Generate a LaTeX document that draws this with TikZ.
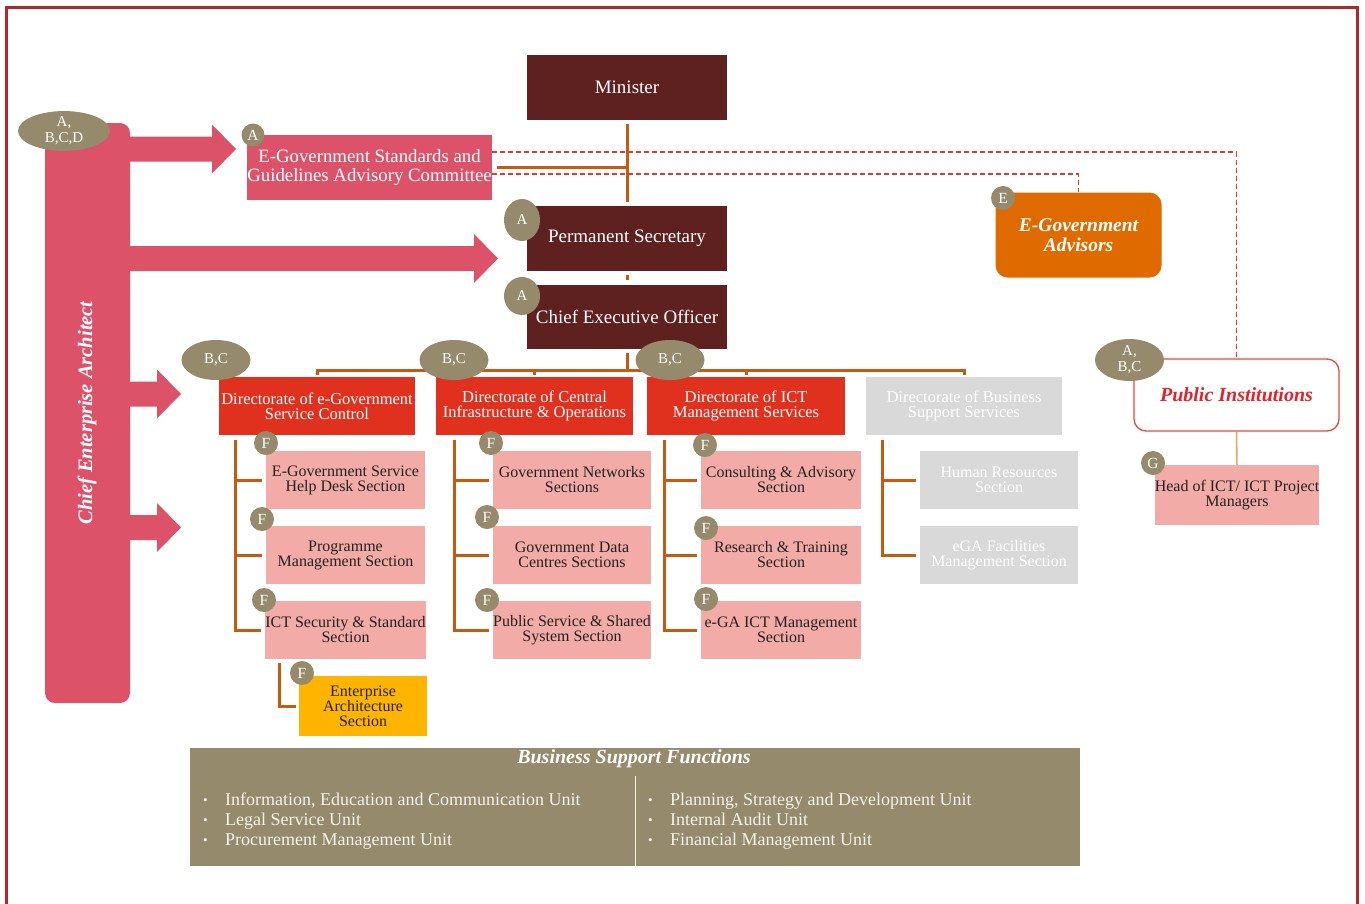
\documentclass[tikz,border=0pt]{standalone}
\usepackage{fontspec}
\setmainfont{Liberation Serif}
\usetikzlibrary{shapes.geometric}
\definecolor{framered}{HTML}{B0282C}
\definecolor{barpink}{HTML}{DB5269}
\definecolor{maroon}{HTML}{5E2120}
\definecolor{lineorange}{HTML}{C55A11}
\definecolor{dirred}{HTML}{E0301E}
\definecolor{secpink}{HTML}{F2ABA6}
\definecolor{greybox}{HTML}{D9D9D9}
\definecolor{amber}{HTML}{FFB400}
\definecolor{khaki}{HTML}{968A6C}
\definecolor{advorange}{HTML}{DF6A00}
\definecolor{dashred}{HTML}{E8392E}
\definecolor{pired}{HTML}{E8463E}
\definecolor{pitext}{HTML}{E3222A}
\definecolor{txtdark}{HTML}{222222}
\definecolor{softorange}{HTML}{F0A060}
\definecolor{bsftext}{HTML}{F4F2EC}
\newcommand\myfs[2]{\fontsize{#1}{#2}\selectfont}
\newcommand\bul{\makebox[22pt][l]{\raisebox{0.5pt}{\myfs{13}{13}\textbullet}}}
\newcommand\fatarr[3]{\fill[barpink] (#1,#3-12.5) -- (#2-24,#3-12.5) -- (#2-24,#3-24.5) -- (#2,#3) -- (#2-24,#3+24.5) -- (#2-24,#3+12.5) -- (#1,#3+12.5) -- cycle;}
\begin{document}
\begin{tikzpicture}[x=1pt,y=-1pt,
  box/.style={rectangle, inner sep=0pt, align=center},
  darkbox/.style={box, fill=maroon, text=white, minimum width=200pt, minimum height=65pt, font=\myfs{19}{19}},
  dirbox/.style={box, fill=dirred, text=white, minimum width=197pt, minimum height=58pt, font=\myfs{16.5}{15}},
  secbox/.style={box, fill=secpink, text=txtdark, minimum width=159pt, minimum height=58pt, font=\myfs{16}{15}},
  greydir/.style={dirbox, fill=greybox, text=white},
  greysec/.style={secbox, fill=greybox, text=white},
  badge/.style={ellipse, fill=khaki, text=white, inner sep=0pt, align=center, font=\myfs{15}{16}},
  fbadge/.style={circle, fill=khaki, text=white, inner sep=0pt, minimum size=24pt, font=\myfs{15.5}{15.5}},
  treeline/.style={draw=lineorange, line width=3pt},
  dashline/.style={draw=dashred, line width=1.2pt, dash pattern=on 5pt off 3pt},
]
\useasboundingbox (0,0) rectangle (1365,903);
\clip (0,0) rectangle (1365,903);
% frame
\draw[framered, line width=3pt] (6.5,930) -- (6.5,7) -- (1357,7) -- (1357,930);

% Chief Enterprise Architect bar
\node[box, fill=barpink, minimum width=85pt, minimum height=580pt, rounded corners=10pt] (cea) at (87.5,413) {};
\node[rotate=90, text=white, font=\myfs{20.5}{20}\bfseries\itshape] (ceatext) at (87,413) {Chief Enterprise Architect};

% fat arrows
\fatarr{128}{236}{149}
\fatarr{128}{498}{258.5}
\fatarr{128}{181}{394}
\fatarr{128}{181}{527.5}

% top boxes
\node[box, fill=barpink, text=white, minimum width=245pt, minimum height=65pt, font=\myfs{18.8}{18.5}] (egsc) at (369.5,167.5) {E-Government Standards and\\Guidelines Advisory Committee};
\node[darkbox] (minister) at (627,87) {Minister};
\node[darkbox] (ps) at (627,238.5) {Permanent Secretary};
\node[darkbox, minimum height=64pt] (ceo) at (627,316.5) {Chief Executive Officer};

% advisors and public institutions
\node[box, fill=advorange, text=white, minimum width=166pt, minimum height=85pt, rounded corners=12pt, font=\myfs{19.5}{20}\bfseries\itshape] (adv) at (1078.5,235) {E-Government\\Advisors};
\node[box, draw=pired, line width=1.3pt, fill=white, text=pitext, minimum width=205pt, minimum height=72pt, rounded corners=12pt, font=\myfs{20}{20}\bfseries\itshape] (pi) at (1236.5,395) {Public Institutions};
\node[secbox, minimum width=164pt, minimum height=60pt] (head) at (1237,495) {Head of ICT/ ICT Project\\Managers};

% directorates
\node[dirbox, minimum width=196pt] (d1) at (317,406) {Directorate of e-Government\\Service Control};
\node[dirbox] (d2) at (534.5,406) {Directorate of Central\\Infrastructure \& Operations};
\node[dirbox, minimum width=198pt] (d3) at (746,406) {Directorate of ICT\\Management Services};
\node[greydir, minimum width=196pt] (d4) at (964,406) {Directorate of Business\\Support Services};

% sections
\node[secbox] (s11) at (345.5,480) {E-Government Service\\Help Desk Section};
\node[secbox] (s12) at (345.5,555) {Programme\\Management Section};
\node[secbox] (s13) at (345.5,630) {ICT Security \& Standard\\Section};
\node[secbox, fill=amber, minimum width=128pt, minimum height=60pt] (ea) at (363,706) {Enterprise\\Architecture\\Section};
\node[secbox, minimum width=158pt] (s21) at (572,480) {Government Networks\\Sections};
\node[secbox, minimum width=158pt] (s22) at (572,555) {Government Data\\Centres Sections};
\node[secbox, minimum width=158pt] (s23) at (572,630) {Public Service \& Shared\\System Section};
\node[secbox, minimum width=160pt] (s31) at (781,480) {Consulting \& Advisory\\Section};
\node[secbox, minimum width=160pt] (s32) at (781,555) {Research \& Training\\Section};
\node[secbox, minimum width=160pt] (s33) at (781,630) {e-GA ICT Management\\Section};
\node[greysec, minimum width=158pt] (s41) at (999,480) {Human Resources\\Section};
\node[greysec, minimum width=158pt] (s42) at (999,555) {eGA Facilities\\Management Section};

% connectors
\coordinate (bus) at (0,370);
\draw[treeline] ([yshift=-4pt]minister.south) -- ([yshift=4pt]ps.north);
\draw[treeline] (minister.south |- egsc.east) -- ([xshift=5pt]egsc.east);
\draw[treeline] ([yshift=-4pt]ps.south) -- ([yshift=4pt]ceo.north);
\draw[treeline] ([yshift=-4pt]ceo.south) -- (ceo.south |- bus);
\draw[treeline] ([yshift=2pt]d1.north) -- (d1.north |- bus) -- (d4.north |- bus) -- ([yshift=2pt]d4.north);
\draw[treeline] ([yshift=2pt]d2.north) -- (d2.north |- bus);
\draw[treeline] ([yshift=2pt]d3.north) -- (d3.north |- bus);

% trees
\draw[treeline] ([xshift=17pt,yshift=-5pt]d1.south west) |- ([xshift=-4pt]s13.west);
\draw[treeline] ([xshift=17pt]d1.south west |- s11.west) -- ([xshift=-4pt]s11.west);
\draw[treeline] ([xshift=17pt]d1.south west |- s12.west) -- ([xshift=-4pt]s12.west);
\draw[treeline] ([xshift=19pt,yshift=-5pt]d2.south west) |- ([xshift=-4pt]s23.west);
\draw[treeline] ([xshift=19pt]d2.south west |- s21.west) -- ([xshift=-4pt]s21.west);
\draw[treeline] ([xshift=19pt]d2.south west |- s22.west) -- ([xshift=-4pt]s22.west);
\draw[treeline] ([xshift=18pt,yshift=-5pt]d3.south west) |- ([xshift=-4pt]s33.west);
\draw[treeline] ([xshift=18pt]d3.south west |- s31.west) -- ([xshift=-4pt]s31.west);
\draw[treeline] ([xshift=18pt]d3.south west |- s32.west) -- ([xshift=-4pt]s32.west);
\draw[treeline] ([xshift=17pt,yshift=-5pt]d4.south west) |- ([xshift=-4pt]s42.west);
\draw[treeline] ([xshift=17pt]d4.south west |- s41.west) -- ([xshift=-4pt]s41.west);
\draw[treeline] ([xshift=14pt,yshift=-4pt]s13.south west) |- ([xshift=-3pt]ea.west);

% dashed links
\draw[dashline] (egsc.east |- 0,152) -| (pi.north);
\draw[dashline] (egsc.east |- 0,174) -| (adv.north);
\draw[draw=softorange, line width=1.5pt] (pi.south) -- (head.north);

% badges
\node[badge, minimum width=92pt, minimum height=36pt] (babcd) at (64,131) {A,\\B,C,D};
\node[fbadge, minimum size=23pt] (begsc) at (253,135) {A};
\node[badge, minimum width=36pt, minimum height=42pt] (bps) at (522,220) {A};
\node[badge, minimum width=36pt, minimum height=38pt] (bceo) at (522,296) {A};
\node[badge, minimum width=69pt, minimum height=40pt] (bd1) at (216,360) {B,C};
\node[badge, minimum width=69pt, minimum height=40pt] (bd2) at (454,360) {B,C};
\node[badge, minimum width=69pt, minimum height=40pt] (bd3) at (670,360) {B,C};
\node[fbadge] (badv) at (1003,198) {E};
\node[badge, minimum width=69pt, minimum height=42pt] (bpi) at (1129.5,360) {A,\\B,C};
\node[fbadge] (bhead) at (1153,463) {G};
\node[fbadge] (f11) at (266,443) {F};
\node[fbadge] (f12) at (262,519) {F};
\node[fbadge] (f13) at (264,600) {F};
\node[fbadge] (fea) at (302,673) {F};
\node[fbadge] (f21) at (491,443) {F};
\node[fbadge] (f22) at (487,517) {F};
\node[fbadge] (f23) at (487,600) {F};
\node[fbadge] (f31) at (705,445) {F};
\node[fbadge] (f32) at (706,528) {F};
\node[fbadge] (f33) at (706,599) {F};

% business support functions
\node[box, fill=khaki, minimum width=890pt, minimum height=118pt] (bsf) at (635,807) {};
\node[text=white, font=\myfs{20}{20}\bfseries\itshape] (bsftitle) at (634,759) {Business Support Functions};
\draw[draw=bsftext, line width=1pt] (bsf.south |- 0,776) -- (bsf.south);
\node[anchor=west, align=left, inner sep=0pt, text=bsftext, font=\myfs{18}{20}] (bsfl) at (203,821) {\bul Information, Education and Communication Unit\\\bul Legal Service Unit\\\bul Procurement Management Unit};
\node[anchor=west, align=left, inner sep=0pt, text=bsftext, font=\myfs{18}{20}] (bsfr) at (648,821) {\bul Planning, Strategy and Development Unit\\\bul Internal Audit Unit\\\bul Financial Management Unit};
\end{tikzpicture}
\end{document}
